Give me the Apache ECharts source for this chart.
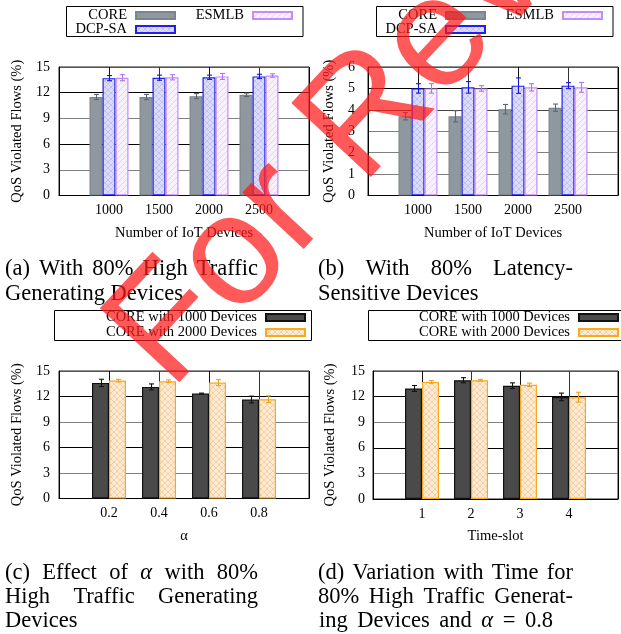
<!DOCTYPE html>
<html><head><meta charset="utf-8">
<script src="https://cdn.jsdelivr.net/npm/echarts@6/dist/echarts.min.js"></script>
<style>html,body{margin:0;padding:0;background:#fff}#c{width:621px;height:634px}</style>
</head><body><div id="c"></div>
<script>
// ---------- data ----------
const devices = ['1000', '1500', '2000', '2500'];
const alphas = ['0.2', '0.4', '0.6', '0.8'];
const slots = ['1', '2', '3', '4'];

// (a) 80% high traffic generating devices
const aCore = [11.5, 11.5, 11.6, 11.75];
const aCoreErr = [0.3, 0.3, 0.3, 0.2];
const aDcp = [13.7, 13.75, 13.8, 13.9];
const aDcpErr = [0.3, 0.3, 0.25, 0.25];
const aEsm = [13.75, 13.8, 13.9, 14.0];
const aEsmErr = [0.35, 0.3, 0.35, 0.2];

// (b) 80% latency-sensitive devices
const bCore = [3.7, 3.7, 4.03, 4.1];
const bCoreErr = [0.17, 0.26, 0.22, 0.17];
const bDcp = [5.0, 5.05, 5.13, 5.13];
const bDcpErr = [0.22, 0.27, 0.36, 0.14];
const bEsm = [5.0, 5.0, 5.05, 5.05];
const bEsmErr = [0.22, 0.13, 0.17, 0.23];

// (c) effect of alpha
const c1000 = [13.6, 13.13, 12.35, 11.64];
const c1000Err = [0.43, 0.35, 0.05, 0.4];
const c2000 = [13.87, 13.8, 13.64, 11.68];
const c2000Err = [0.15, 0.15, 0.35, 0.4];

// (d) variation with time
const d1000 = [12.95, 13.92, 13.28, 11.96];
const d1000Err = [0.35, 0.3, 0.33, 0.45];
const d2000 = [13.72, 13.92, 13.38, 11.93];
const d2000Err = [0.15, 0.1, 0.2, 0.58];

const yTitle = 'QoS Violated Flows (%)';

// ---------- styles ----------
const SERIF = '"Liberation Serif", "Times New Roman", serif';
function pattern(bg, fg, cross) {
  const c = document.createElement('canvas'); c.width = 6; c.height = 6;
  const g = c.getContext('2d'); g.fillStyle = bg; g.fillRect(0, 0, 6, 6);
  g.strokeStyle = fg; g.lineWidth = 1;
  g.beginPath();
  g.moveTo(0, 6); g.lineTo(6, 0); g.moveTo(-3, 3); g.lineTo(3, -3); g.moveTo(3, 9); g.lineTo(9, 3);
  if (cross) { g.moveTo(0, 0); g.lineTo(6, 6); g.moveTo(-3, 3); g.lineTo(3, 9); g.moveTo(3, -3); g.lineTo(9, 3); }
  g.stroke();
  return { image: c, repeat: 'repeat' };
}
const ST = {
  core: { fill: '#8f989f', border: '#7c858c', err: '#5e666c' },
  dcp: { fill: pattern('#dcdcf9', '#bfc2f3', true), border: '#1f1fee', err: '#1414d8' },
  esm: { fill: pattern('#f8f1fd', '#e3d2f7', false), border: '#c38cf7', err: '#b074f0' },
  k1: { fill: '#4a4a4a', border: '#111111', err: '#111111' },
  k2: { fill: pattern('#fdebd6', '#f8cfa3', true), border: '#f9a91c', err: '#f0a020' }
};

const panels = [
  { grid: { left: 59, top: 67, width: 250, height: 128.5 }, cats: devices, ymax: 15, yint: 3,
    xname: 'Number of IoT Devices', yGap: 34, yMargin: 9, barW: 13,
    ycolors: ['#000', '#808080', '#000', '#808080', '#000', '#555'],
    ser: [['CORE', aCore, aCoreErr, ST.core], ['DCP-SA', aDcp, aDcpErr, ST.dcp], ['ESMLB', aEsm, aEsmErr, ST.esm]] },
  { grid: { left: 368, top: 67, width: 255, height: 128.5 }, cats: devices, ymax: 6, yint: 1,
    xname: 'Number of IoT Devices', yGap: 31, yMargin: 13, barW: 13,
    ycolors: ['#000', '#808080', '#808080', '#808080', '#444', '#000', '#555'],
    ser: [['CORE', bCore, bCoreErr, ST.core], ['DCP-SA', bDcp, bDcpErr, ST.dcp], ['ESMLB', bEsm, bEsmErr, ST.esm]] },
  { grid: { left: 59, top: 371, width: 250, height: 127.5 }, cats: alphas, ymax: 15, yint: 3,
    xname: 'α', yGap: 34, yMargin: 9, barW: 17,
    ycolors: ['#000', '#808080', '#000', '#808080', '#000', '#555'],
    ser: [['CORE with 1000 Devices', c1000, c1000Err, ST.k1], ['CORE with 2000 Devices', c2000, c2000Err, ST.k2]] },
  { grid: { left: 373, top: 371, width: 250, height: 128 }, cats: slots, ymax: 15, yint: 3,
    xname: 'Time-slot', yGap: 35, yMargin: 8, barW: 17,
    ycolors: ['#000', '#808080', '#000', '#808080', '#000', '#555'],
    ser: [['CORE with 1000 Devices', d1000, d1000Err, ST.k1], ['CORE with 2000 Devices', d2000, d2000Err, ST.k2]] }
];

const grids = [], xAxes = [], yAxes = [], series = [];
panels.forEach((p, i) => {
  grids.push(Object.assign({ show: true, borderColor: '#222', borderWidth: 1, backgroundColor: 'transparent' }, p.grid));
  xAxes.push({
    type: 'category', gridIndex: i, data: [''].concat(p.cats, ['']), boundaryGap: false,
    axisLine: { lineStyle: { color: '#000', width: 1 } }, axisTick: { show: false },
    axisLabel: { interval: 0, fontFamily: SERIF, fontSize: 14, color: '#000', margin: 8 },
    splitLine: { show: true, interval: 0, lineStyle: { color: ['#000', '#111', '#333', '#111', '#333', '#000'], width: 1 } },
    name: p.xname, nameLocation: 'middle', nameGap: 30,
    nameTextStyle: { fontFamily: SERIF, fontSize: 14.5, color: '#000' }
  });
  yAxes.push({
    type: 'value', gridIndex: i, min: 0, max: p.ymax, interval: p.yint,
    axisLine: { show: true, lineStyle: { color: '#000', width: 1 } }, axisTick: { show: false },
    axisLabel: { fontFamily: SERIF, fontSize: 14, color: '#000', margin: p.yMargin },
    splitLine: { show: true, lineStyle: { color: p.ycolors, width: 1 } },
    name: yTitle, nameLocation: 'middle', nameGap: p.yGap, nameRotate: 90,
    nameTextStyle: { fontFamily: SERIF, fontSize: 14.5, color: '#000' }
  });
  const n = p.ser.length;
  p.ser.forEach((s, si) => {
    const [name, vals, errs, st] = s;
    series.push({
      type: 'bar', name: name, xAxisIndex: i, yAxisIndex: i, silent: true,
      data: [null].concat(vals, [null]), barWidth: p.barW, barGap: '0%',
      itemStyle: { color: st.fill, borderColor: st.border, borderWidth: 1.2 }, z: 2
    });
    series.push({
      type: 'custom', xAxisIndex: i, yAxisIndex: i, silent: true, z: 4,
      data: vals.map((v, k) => [k + 1, v, errs[k]]),
      encode: { x: 0, y: 1 },
      renderItem: function (params, api) {
        const xi = api.value(0), v = api.value(1), e = api.value(2);
        const off = (si - (n - 1) / 2) * p.barW;
        const hi = api.coord([xi, v + e]), lo = api.coord([xi, v - e]);
        const x = Math.round(hi[0] + off) + 0.5;
        const sty = { stroke: st.err, lineWidth: 1.1 };
        return { type: 'group', children: [
          { type: 'line', shape: { x1: x, y1: hi[1], x2: x, y2: lo[1] }, style: sty },
          { type: 'line', shape: { x1: x - 2.5, y1: hi[1], x2: x + 2.5, y2: hi[1] }, style: sty },
          { type: 'line', shape: { x1: x - 2.5, y1: lo[1], x2: x + 2.5, y2: lo[1] }, style: sty }
        ] };
      }
    });
  });
});

// ---------- legends ----------
function leg(name, swRight, cy) {
  return {
    data: [name], right: 621 - swRight, top: cy - 8, align: 'right', padding: 0,
    itemWidth: 39, itemHeight: 7, itemGap: 0, icon: 'rect', selectedMode: false,
    textStyle: { fontFamily: SERIF, fontSize: 14.5, color: '#000', lineHeight: 16, padding: [0, 4, 0, 0] }
  };
}
const legends = [
  leg('CORE', 176, 15.5), leg('DCP-SA', 176, 29.5), leg('ESMLB', 293, 15.5),
  leg('CORE with 1000 Devices', 306, 317.5), leg('CORE with 2000 Devices', 306, 332.5),
  leg('CORE', 486, 15.5), leg('DCP-SA', 486, 29.5), leg('ESMLB', 603, 15.5),
  leg('CORE with 1000 Devices', 619, 317.5), leg('CORE with 2000 Devices', 619, 332.5)
];

// ---------- captions ----------
const CAPF = 22.5;
const mctx = document.createElement('canvas').getContext('2d');
function wordW(w) {
  mctx.font = (w === 'α' ? 'italic ' : '') + CAPF + 'px ' + SERIF;
  return mctx.measureText(w).width;
}
const graphics = [];
function capLine(words, x0, x1, y, justify) {
  const ws = words.map(wordW);
  const tot = ws.reduce((a, b) => a + b, 0);
  mctx.font = CAPF + 'px ' + SERIF;
  const gap = justify ? (x1 - x0 - tot) / (words.length - 1) : mctx.measureText(' ').width;
  let x = x0;
  words.forEach((w, k) => {
    graphics.push({ type: 'text', x: x, y: y, silent: true, style: {
      text: w, fill: '#000', fontFamily: SERIF, fontSize: CAPF,
      fontStyle: w === 'α' ? 'italic' : 'normal', align: 'left', verticalAlign: 'middle' } });
    x += ws[k] + gap;
  });
}
capLine(['(a)', 'With', '80%', 'High', 'Traffic'], 5, 258, 269, true);
capLine(['Generating', 'Devices'], 5, 258, 294, false);
capLine(['(b)', 'With', '80%', 'Latency-'], 318, 573, 269, true);
capLine(['Sensitive', 'Devices'], 318, 573, 294, false);
capLine(['(c)', 'Effect', 'of', 'α', 'with', '80%'], 5, 258, 573, true);
capLine(['High', 'Traffic', 'Generating'], 5, 258, 597, true);
capLine(['Devices'], 5, 258, 621, false);
capLine(['(d)', 'Variation', 'with', 'Time', 'for'], 318, 573, 573, true);
capLine(['80%', 'High', 'Traffic', 'Generat-'], 318, 573, 597, true);
capLine(['ing', 'Devices', 'and', 'α', '=', '0.8'], 319, 553, 621, true);

// legend boxes
[[66.5, 6.5, 236.5, 30], [376.5, 6.5, 236.5, 30], [54.5, 310.5, 257, 30], [368.5, 310.5, 260, 30]].forEach(r => {
  graphics.push({ type: 'rect', silent: true, shape: { x: r[0], y: r[1], width: r[2], height: r[3] },
    style: { fill: 'none', stroke: '#000', lineWidth: 1 } });
});

// watermark
graphics.push({ type: 'text', x: 411, y: 70, rotation: 47 * Math.PI / 180, silent: true, z: 100,
  style: { text: 'For Review', fill: 'rgba(255,25,25,0.72)', fontFamily: '"Liberation Sans", Arial, sans-serif',
    fontSize: 158, align: 'center', verticalAlign: 'middle' } });

const chart = echarts.init(document.getElementById('c'), null, { renderer: 'canvas' });
chart.setOption({
  animation: false, backgroundColor: '#fff',
  grid: grids, xAxis: xAxes, yAxis: yAxes, series: series, legend: legends, graphic: graphics
});
</script></body></html>
